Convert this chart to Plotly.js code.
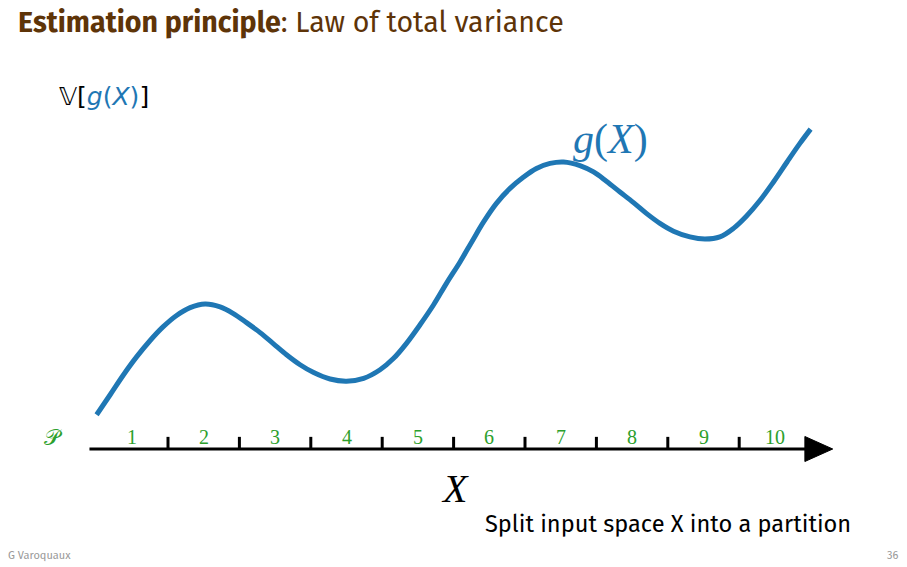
<!DOCTYPE html>
<html>
<head>
<meta charset="utf-8">
<script src="https://cdn.plot.ly/plotly-3.0.1.min.js"></script>
<style>html,body{margin:0;padding:0;background:#fff;}#chart{width:907px;height:567px;}</style>
</head>
<body>
<div id="chart"></div>
<script>
// Partition cell labels (cells of unit width along X)
const partitionLabels = ['1','2','3','4','5','6','7','8','9','10'];
// g(X) curve (x in partition units, y in same units above the axis)
const curveX = [0.00,0.19,0.37,0.56,0.75,0.93,1.12,1.31,1.52,1.73,1.91,2.10,2.29,2.47,2.66,2.85,3.04,3.27,3.50,3.74,3.97,4.16,4.34,4.53,4.72,4.90,5.09,5.26,5.42,5.60,5.79,5.98,6.16,6.35,6.54,6.77,6.96,7.14,7.33,7.52,7.70,7.89,8.08,8.31,8.52,8.73,8.92,9.10,9.29,9.48,9.67,9.85,10.00];
const curveY = [0.48,0.76,1.03,1.29,1.52,1.71,1.87,1.98,2.03,1.99,1.90,1.77,1.63,1.48,1.32,1.18,1.07,0.98,0.95,0.99,1.11,1.27,1.48,1.74,2.02,2.32,2.62,2.91,3.18,3.44,3.65,3.81,3.93,4.00,4.02,3.97,3.88,3.75,3.60,3.45,3.30,3.16,3.05,2.97,2.94,2.97,3.09,3.26,3.48,3.74,4.02,4.28,4.48];

const W = 907, H = 567;
const blue = '#1f77b4', green = '#2ca02c', brown = '#5e3408';
const serif = 'Liberation Serif, DejaVu Serif, serif';
const sans = 'Fira Sans, Open Sans, Noto Sans, sans-serif';

const nCells = partitionLabels.length;
const shapes = [];
// axis line
shapes.push({type:'line', xref:'x', yref:'y', x0:-0.1, x1:9.95, y0:0, y1:0, line:{color:'#000', width:3}});
// cell boundaries as ticks
for (let i = 1; i < nCells; i++) {
  shapes.push({type:'line', xref:'x', yref:'y', x0:i, x1:i, y0:0, y1:0.17, line:{color:'#000', width:3}});
}
// arrow head
shapes.push({type:'path', xref:'x', yref:'y', path:'M 9.92 0.175 L 10.31 0 L 9.92 -0.175 Z', fillcolor:'#000', line:{color:'#000', width:1}});

const annotations = partitionLabels.map((t, i) => ({
  x: i + 0.5, y: 0.165, xref:'x', yref:'y', text: t, showarrow:false,
  font:{family: serif, size: 20, color: green}, xanchor:'center', yanchor:'middle'
}));
annotations.push({x:53/W, y:1-437/H, xref:'paper', yref:'paper', text:'𝒫', showarrow:false,
  font:{family: 'DejaVu Serif, serif', size:22, color: green}, xanchor:'center', yanchor:'middle'});
annotations.push({x:455/W, y:1-488/H, xref:'paper', yref:'paper', text:'<i>X</i>', showarrow:false,
  font:{family: serif, size:40, color:'#000'}, xanchor:'center', yanchor:'middle'});
annotations.push({x:610/W, y:1-139/H, xref:'paper', yref:'paper', text:'<i>g</i>(<i>X</i>)', showarrow:false,
  font:{family: serif, size:42, color: blue}, xanchor:'center', yanchor:'middle'});
annotations.push({x:57/W, y:1-96/H, xref:'paper', yref:'paper',
  text:'𝕍[<span style="color:'+blue+'"><i>g</i>(<i>X</i>)</span>]', showarrow:false,
  font:{family: 'DejaVu Sans, sans-serif', size:25, color:'#000'}, xanchor:'left', yanchor:'middle'});
annotations.push({x:483/W, y:1-524/H, xref:'paper', yref:'paper', text:'Split input space X into a partition', showarrow:false,
  font:{family: sans, size:23.6, color:'#000'}, xanchor:'left', yanchor:'middle'});
annotations.push({x:6/W, y:1-555/H, xref:'paper', yref:'paper', text:'G Varoquaux', showarrow:false,
  font:{family: sans, size:11, color:'#999'}, xanchor:'left', yanchor:'middle'});
annotations.push({x:900/W, y:1-555/H, xref:'paper', yref:'paper', text:'36', showarrow:false,
  font:{family: sans, size:11, color:'#999'}, xanchor:'right', yanchor:'middle'});

const trace = {x: curveX, y: curveY, type:'scatter', mode:'lines',
  line:{color: blue, width:5, shape:'spline', smoothing:1}, hoverinfo:'skip'};

const unit = 71.4, x0px = 96.6, axisPx = 449;
const layout = {
  width: W, height: H,
  margin:{l:0, r:0, t:0, b:0, pad:0},
  paper_bgcolor:'#fff', plot_bgcolor:'#fff',
  showlegend:false,
  title:{text:'<b>Estimation principle</b>: Law of total variance', x:18/W, xanchor:'left', y:1-22/H, yanchor:'middle', yref:'container', xref:'container',
    font:{family: sans, size:28.6, color: brown}},
  xaxis:{range:[-x0px/unit, (W-x0px)/unit], visible:false, fixedrange:true},
  yaxis:{range:[(axisPx-H)/unit, axisPx/unit], visible:false, fixedrange:true},
  shapes: shapes, annotations: annotations
};
Plotly.newPlot('chart', [trace], layout, {staticPlot:true, displayModeBar:false});
</script>
</body>
</html>
